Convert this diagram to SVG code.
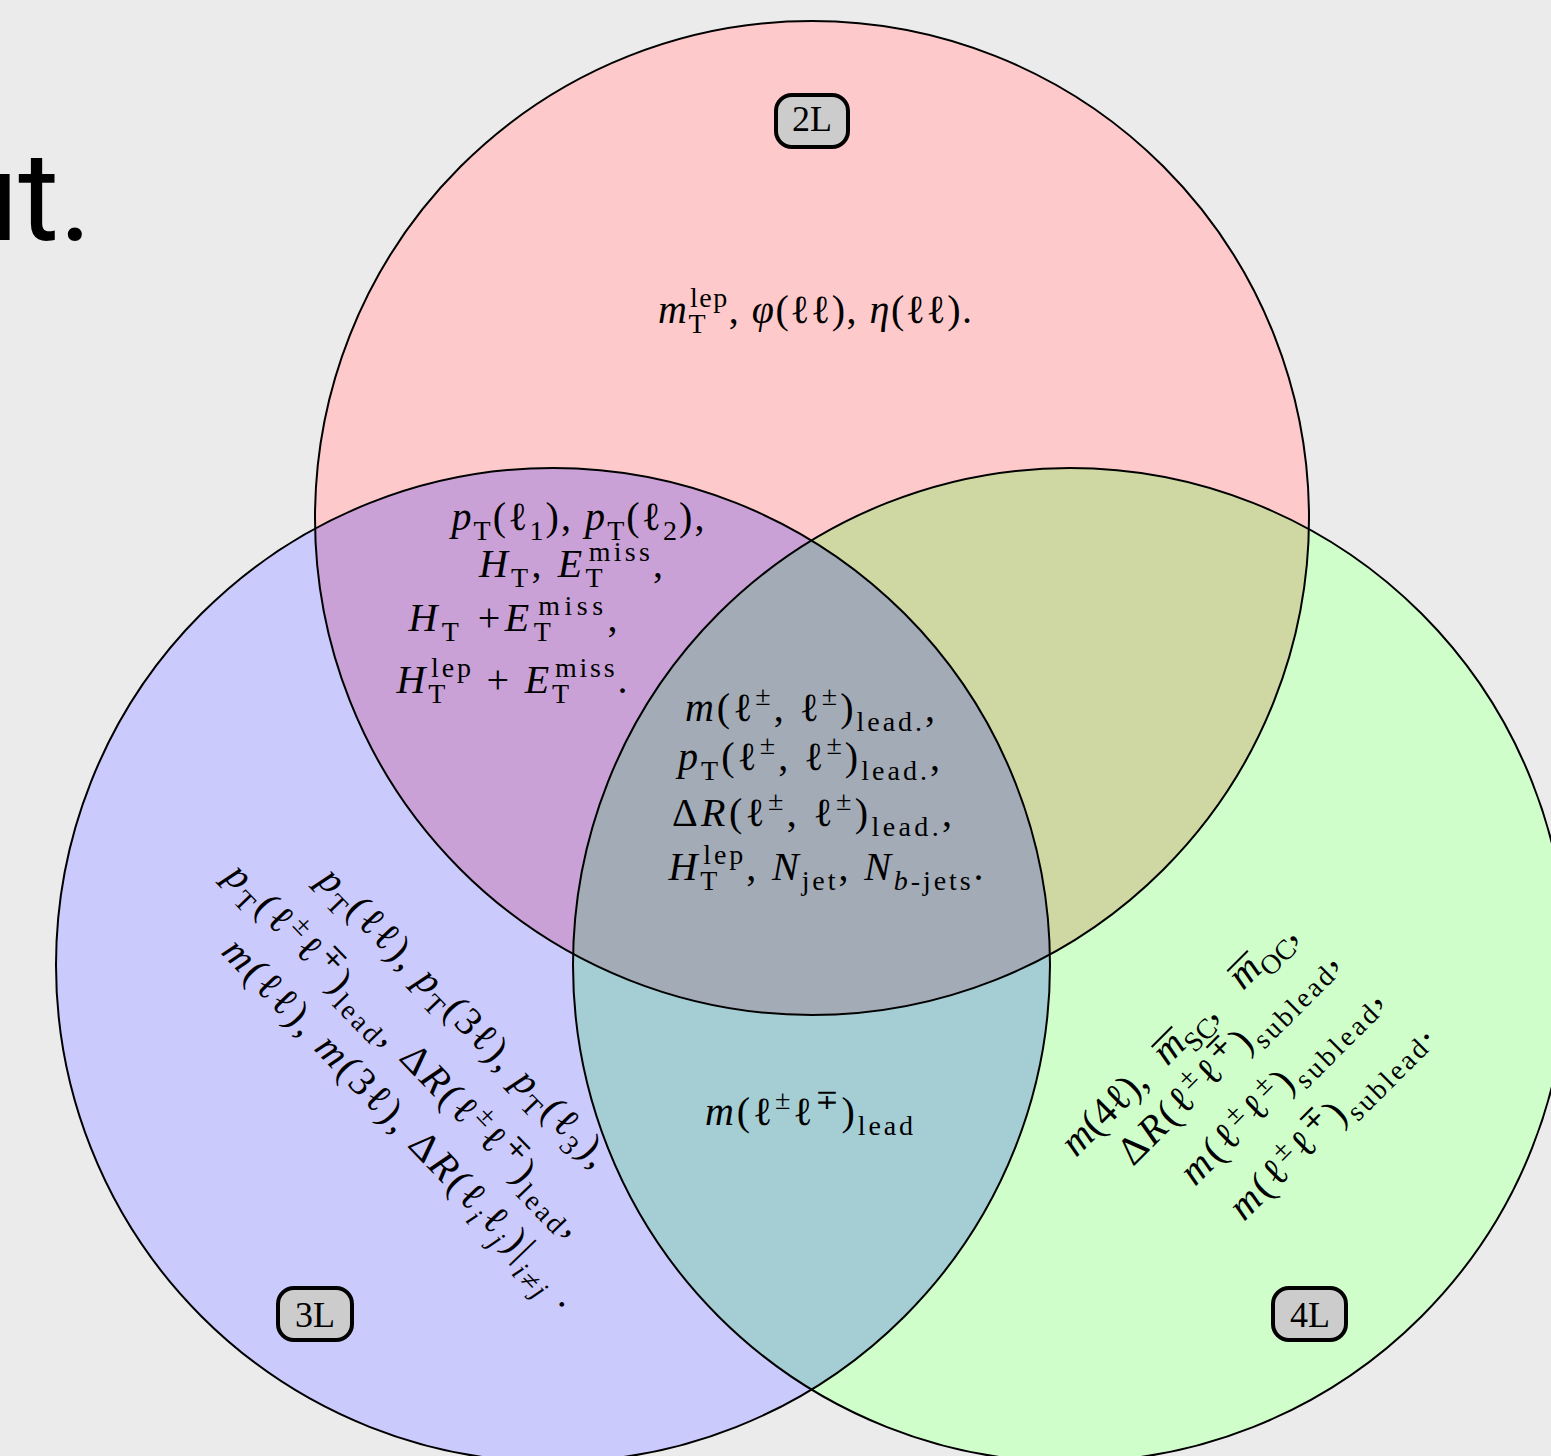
<svg xmlns="http://www.w3.org/2000/svg" width="1551" height="1456" viewBox="0 0 1551 1456">
<defs>
<style>
.t{font-family:"Liberation Serif","DejaVu Serif",serif;font-size:40px;fill:#000}
.i{font-style:italic}
.s{font-size:28px}
.lbl{font-family:"Liberation Serif","DejaVu Serif",serif;font-size:36px;fill:#000;text-anchor:middle}
.box{fill:#cccccc;stroke:#000;stroke-width:4}
.ring{fill:none;stroke:#000;stroke-width:2}
.bar{stroke:#000;stroke-width:2}
</style>
<clipPath id="cA"><circle cx="812" cy="518" r="497"/></clipPath>
<clipPath id="cB"><circle cx="553" cy="965" r="497"/></clipPath>
</defs>
<rect width="1551" height="1456" fill="#ebebeb"/>
<text x="92" y="240" font-family="Roboto, sans-serif" font-size="125" text-anchor="end" fill="#000">ut.</text>
<g id="regions">
<circle cx="812" cy="518" r="497" fill="#fdc9ca"/>
<circle cx="553" cy="965" r="497" fill="#cbcafd"/>
<circle cx="1070" cy="965" r="497" fill="#cffecb"/>
<circle cx="553" cy="965" r="497" fill="#c9a1d6" clip-path="url(#cA)"/>
<circle cx="1070" cy="965" r="497" fill="#cfd8a2" clip-path="url(#cA)"/>
<circle cx="1070" cy="965" r="497" fill="#a4cdd4" clip-path="url(#cB)"/>
<g clip-path="url(#cB)"><circle cx="1070" cy="965" r="497" fill="#a2abb6" clip-path="url(#cA)"/></g>
<circle class="ring" cx="812" cy="518" r="497"/>
<circle class="ring" cx="553" cy="965" r="497"/>
<circle class="ring" cx="1070" cy="965" r="497"/>
</g>
<g id="node-2L">
<rect class="box" x="776" y="95" width="72" height="52" rx="16"/>
<text class="lbl" x="812" y="131">2L</text>
<text class="t" x="815" y="323" text-anchor="middle" textLength="314"><tspan class="i">m</tspan><tspan class="s" dy="10">T</tspan><tspan class="s" dx="-17" dy="-26">lep</tspan><tspan dy="16">, </tspan><tspan class="i">φ</tspan>(ℓℓ), <tspan class="i">η</tspan>(ℓℓ).</text>
</g>
<g id="node-2L-3L">
<text class="t" x="578" y="530" text-anchor="middle" textLength="253"><tspan class="i">p</tspan><tspan class="s" dy="10">T</tspan><tspan dy="-10">(ℓ</tspan><tspan class="s" dy="10">1</tspan><tspan dy="-10">), </tspan><tspan class="i">p</tspan><tspan class="s" dy="10">T</tspan><tspan dy="-10">(ℓ</tspan><tspan class="s" dy="10">2</tspan><tspan dy="-10">),</tspan></text>
<text class="t" x="571" y="577" text-anchor="middle" textLength="184"><tspan class="i">H</tspan><tspan class="s" dy="10">T</tspan><tspan dy="-10">, </tspan><tspan class="i">E</tspan><tspan class="s" dy="10">T</tspan><tspan class="s" dx="-17" dy="-26">miss</tspan><tspan dy="16">,</tspan></text>
<text class="t" x="513" y="631" text-anchor="middle" textLength="209"><tspan class="i">H</tspan><tspan class="s" dy="10">T</tspan><tspan dy="-10"> +</tspan><tspan class="i">E</tspan><tspan class="s" dy="10">T</tspan><tspan class="s" dx="-17" dy="-26">miss</tspan><tspan dy="16">,</tspan></text>
<text class="t" x="512" y="693" text-anchor="middle" textLength="231"><tspan class="i">H</tspan><tspan class="s" dy="10">T</tspan><tspan class="s" dx="-17" dy="-26">lep</tspan><tspan dy="16"> + </tspan><tspan class="i">E</tspan><tspan class="s" dy="10">T</tspan><tspan class="s" dx="-17" dy="-26">miss</tspan><tspan dy="16">.</tspan></text>
</g>
<g id="node-center">
<text class="t" x="810" y="721" text-anchor="middle" textLength="250"><tspan class="i">m</tspan>(ℓ<tspan class="s" dy="-16">±</tspan><tspan dy="16">, ℓ</tspan><tspan class="s" dy="-16">±</tspan><tspan dy="16">)</tspan><tspan class="s" dy="10">lead.</tspan><tspan dy="-10">,</tspan></text>
<text class="t" x="809" y="770" text-anchor="middle" textLength="262"><tspan class="i">p</tspan><tspan class="s" dy="10">T</tspan><tspan dy="-10">(ℓ</tspan><tspan class="s" dy="-16">±</tspan><tspan dy="16">, ℓ</tspan><tspan class="s" dy="-16">±</tspan><tspan dy="16">)</tspan><tspan class="s" dy="10">lead.</tspan><tspan dy="-10">,</tspan></text>
<text class="t" x="812" y="826" text-anchor="middle" textLength="280">Δ<tspan class="i">R</tspan>(ℓ<tspan class="s" dy="-16">±</tspan><tspan dy="16">, ℓ</tspan><tspan class="s" dy="-16">±</tspan><tspan dy="16">)</tspan><tspan class="s" dy="10">lead.</tspan><tspan dy="-10">,</tspan></text>
<text class="t" x="826" y="880" text-anchor="middle" textLength="315"><tspan class="i">H</tspan><tspan class="s" dy="10">T</tspan><tspan class="s" dx="-17" dy="-26">lep</tspan><tspan dy="16">, </tspan><tspan class="i">N</tspan><tspan class="s" dy="10">jet</tspan><tspan dy="-10">, </tspan><tspan class="i">N</tspan><tspan class="s" dy="10"><tspan class="i">b</tspan>-jets</tspan><tspan dy="-10">.</tspan></text>
</g>
<g id="node-3L-4L">
<text class="t" x="809" y="1125" text-anchor="middle" textLength="208"><tspan class="i">m</tspan>(ℓ<tspan class="s" dy="-16">±</tspan><tspan dy="16">ℓ</tspan><tspan class="s" dy="-16">∓</tspan><tspan dy="16">)</tspan><tspan class="s" dy="10">lead</tspan></text>
</g>
<g id="node-3L">
<rect class="box" x="278" y="1288" width="74" height="52" rx="16"/>
<text class="lbl" x="315" y="1327">3L</text>
<text class="t" transform="translate(316,882) rotate(46)" textLength="400"><tspan class="i">p</tspan><tspan class="s" dy="10">T</tspan><tspan dy="-10">(ℓℓ), </tspan><tspan class="i">p</tspan><tspan class="s" dy="10">T</tspan><tspan dy="-10">(3ℓ), </tspan><tspan class="i">p</tspan><tspan class="s" dy="10">T</tspan><tspan dy="-10">(ℓ</tspan><tspan class="s" dy="10">3</tspan><tspan dy="-10">),</tspan></text>
<text class="t" transform="translate(223,878) rotate(46)" textLength="500"><tspan class="i">p</tspan><tspan class="s" dy="10">T</tspan><tspan dy="-10">(ℓ</tspan><tspan class="s" dy="-16">±</tspan><tspan dy="16">ℓ</tspan><tspan class="s" dy="-16">∓</tspan><tspan dy="16">)</tspan><tspan class="s" dy="10">lead</tspan><tspan dy="-10">, Δ</tspan><tspan class="i">R</tspan>(ℓ<tspan class="s" dy="-16">±</tspan><tspan dy="16">ℓ</tspan><tspan class="s" dy="-16">∓</tspan><tspan dy="16">)</tspan><tspan class="s" dy="10">lead</tspan><tspan dy="-10">,</tspan></text>
<text class="t" transform="translate(220,953) rotate(46)" textLength="495"><tspan class="i">m</tspan>(ℓℓ), <tspan class="i">m</tspan>(3ℓ), Δ<tspan class="i">R</tspan>(ℓ<tspan class="s i" dy="10">i</tspan><tspan dy="-10">ℓ</tspan><tspan class="s i" dy="10">j</tspan><tspan dy="-10">)|</tspan><tspan class="s i" dy="14">i≠j</tspan><tspan dy="-14"> .</tspan></text>
</g>
<g id="node-4L">
<rect class="box" x="1273" y="1288" width="73" height="52" rx="16"/>
<text class="lbl" x="1310" y="1327">4L</text>
<g transform="translate(1076,1158) rotate(-45)">
<text class="t"><tspan class="i">m</tspan>(4ℓ),</text>
<text class="t" x="129"><tspan class="i">m</tspan><tspan class="s" dy="10">SC</tspan><tspan dy="-10">,</tspan></text>
<line class="bar" x1="132" y1="-25" x2="161" y2="-25"/>
<text class="t" x="236"><tspan class="i">m</tspan><tspan class="s" dy="10">OC</tspan><tspan dy="-10">,</tspan></text>
<line class="bar" x1="239" y1="-25" x2="268" y2="-25"/>
</g>
<text class="t" transform="translate(1133,1167) rotate(-45)" textLength="290">Δ<tspan class="i">R</tspan>(ℓ<tspan class="s" dy="-16">±</tspan><tspan dy="16">ℓ</tspan><tspan class="s" dy="-16">∓</tspan><tspan dy="16">)</tspan><tspan class="s" dy="10">sublead</tspan><tspan dy="-10">,</tspan></text>
<text class="t" transform="translate(1195,1187) rotate(-45)" textLength="265"><tspan class="i">m</tspan>(ℓ<tspan class="s" dy="-16">±</tspan><tspan dy="16">ℓ</tspan><tspan class="s" dy="-16">±</tspan><tspan dy="16">)</tspan><tspan class="s" dy="10">sublead</tspan><tspan dy="-10">,</tspan></text>
<text class="t" transform="translate(1244,1222) rotate(-45)" textLength="265"><tspan class="i">m</tspan>(ℓ<tspan class="s" dy="-16">±</tspan><tspan dy="16">ℓ</tspan><tspan class="s" dy="-16">∓</tspan><tspan dy="16">)</tspan><tspan class="s" dy="10">sublead</tspan><tspan dy="-10">.</tspan></text>
</g>
</svg>
